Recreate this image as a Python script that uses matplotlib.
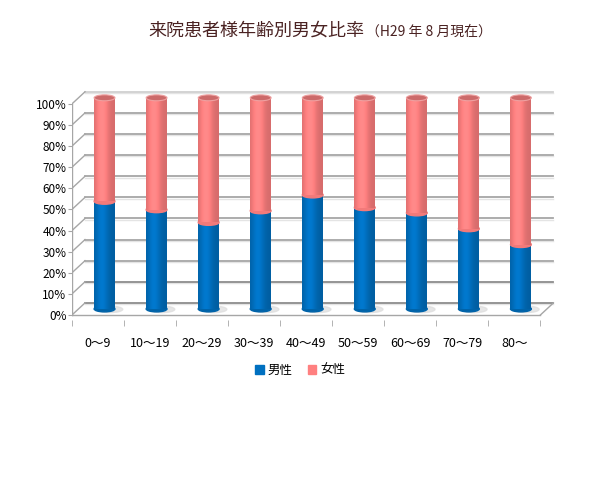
import numpy as np
import matplotlib.pyplot as plt
from matplotlib.patches import Ellipse, Patch
from matplotlib.colors import to_rgb

plt.rcParams['font.family'] = ['Noto Sans CJK JP', 'DejaVu Sans']

# データ
categories = ['0〜9', '10〜19', '20〜29', '30〜39', '40〜49', '50〜59', '60〜69', '70〜79', '80〜']
male = [51, 47, 41, 46.5, 54, 48, 45.5, 38, 30.5]
female = [100 - m for m in male]
ytick_values = list(range(0, 101, 10))
ytick_labels = [f'{v}%' for v in ytick_values]

blue = '#0070c0'
pink = '#ff8080'

# 奥行き（疑似3D）
DX = 0.25
DY = 5.7
bar_w = 0.4

fig = plt.figure(figsize=(6, 4.83), dpi=100)
ax = fig.add_axes([0.12, 0.337, 0.805, 0.483])
for s in ax.spines.values():
    s.set_visible(False)

# 壁・床
grid_col = '#a6a6a6'
for v in ytick_values:
    lc = '#8c8c8c' if v in (0, 10) else grid_col
    if v == 100:
        lc = '#d0d0d0'
    ax.plot([-0.5 + DX, 8.5 + DX], [v + DY, v + DY], color=lc, lw=1.3, zorder=1)
    ax.plot([-0.5 + DX, 8.5 + DX], [v + DY - 0.6, v + DY - 0.6], color='#e4e4e4', lw=1.0, zorder=0.9)
    ax.plot([-0.5, -0.5 + DX], [v, v + DY], color=grid_col, lw=1.0, zorder=1)
ax.plot([-0.5, -0.5], [0, 100], color=grid_col, lw=1.0, zorder=1)
ax.plot([-0.5, 8.5], [0, 0], color=grid_col, lw=1.0, zorder=1)
ax.plot([8.5, 8.5 + DX], [0, DY], color=grid_col, lw=1.0, zorder=1)


def shade(color, n=40):
    c = np.array(to_rgb(color))
    t = np.linspace(0, 1, n)
    f = 0.84 + 0.24 * np.exp(-((t - 0.38) / 0.3) ** 2)
    img = np.clip(c[None, :] * f[:, None], 0, 1)
    return img[None, :, :]


def darker(color, k):
    return tuple(np.array(to_rgb(color)) * k)


for i, (m, f) in enumerate(zip(male, female)):
    xc = i + DX / 2
    x0, x1 = xc - bar_w / 2, xc + bar_w / 2
    base = DY / 2
    eh = 2.8
    # 影
    ax.add_patch(Ellipse((xc + 0.1, base - 0.2), bar_w * 1.25, eh * 1.1,
                         color='#dcdcdc', alpha=0.7, zorder=2))
    # 男性
    ax.add_patch(Ellipse((xc, base), bar_w, eh, color=darker(blue, 0.88), zorder=2.5))
    ax.imshow(shade(blue), extent=[x0, x1, base, base + m], aspect='auto',
              origin='lower', interpolation='bilinear', zorder=3)
    # 女性
    ax.add_patch(Ellipse((xc, base + m), bar_w, eh, color=darker(pink, 0.95), zorder=3.2))
    ax.imshow(shade(pink), extent=[x0, x1, base + m, base + m + f], aspect='auto',
              origin='lower', interpolation='bilinear', zorder=3.4)
    ax.add_patch(Ellipse((xc, base + 100), bar_w, eh, facecolor='#cc6a6a',
                         edgecolor='#eea0a0', lw=0.8, zorder=3.6))

ax.set_xlim(-0.5, 8.78)
ax.set_ylim(-2.5, 108)

ax.set_yticks(ytick_values)
ax.set_yticklabels(ytick_labels, fontsize=8.5)
ax.tick_params(axis='y', length=3, color=grid_col, pad=1)
ax.set_xticks(range(len(categories)))
ax.set_xticklabels(categories, fontsize=9)
ax.set_xticks(np.arange(-0.5, 9, 1), minor=True)
ax.tick_params(axis='x', which='major', length=0, pad=12)
ax.tick_params(axis='x', which='minor', length=4, color=grid_col)

# タイトル
title_col = '#4a2222'
fig.text(148 / 600, 1 - 31 / 483, '来院患者様年齢別男女比率', fontsize=13,
         color=title_col, ha='left', va='center')
fig.text(366 / 600, 1 - 32 / 483, '（H29 年 8 月現在）', fontsize=10,
         color=title_col, ha='left', va='center')

# 凡例
handles = [Patch(color=blue, label='男性'), Patch(color=pink, label='女性')]
fig.legend(handles=handles, loc='center', bbox_to_anchor=(300 / 600, 1 - 370 / 483),
           ncol=2, frameon=False, fontsize=9, handlelength=0.7, handleheight=0.7,
           handletextpad=0.3, columnspacing=1.2)

fig.savefig('out.png', dpi=100)
